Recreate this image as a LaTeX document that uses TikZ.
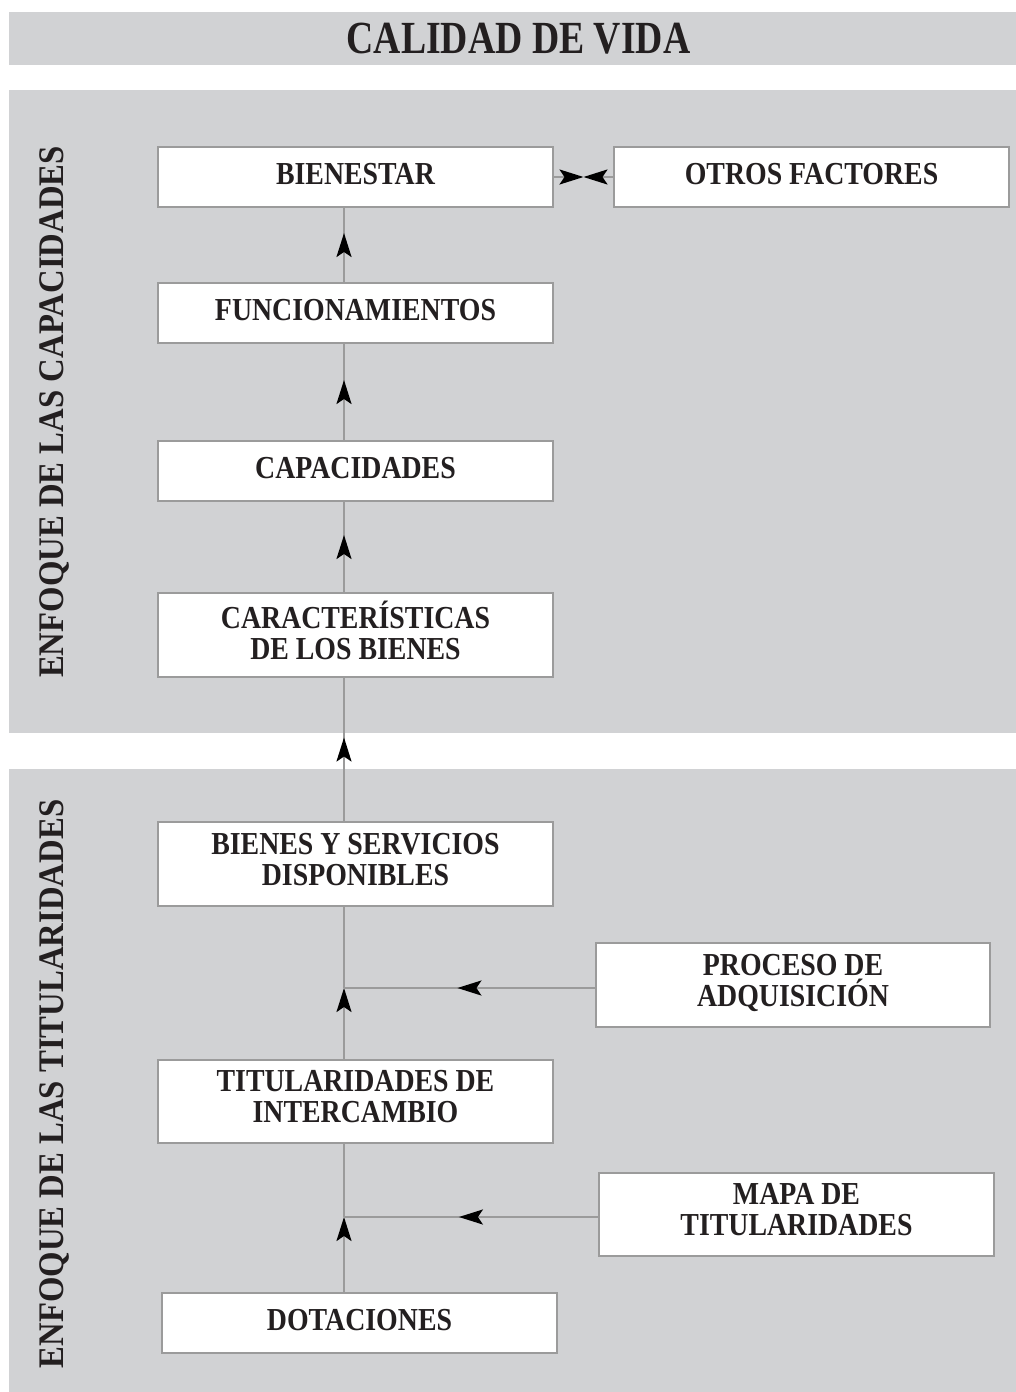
\documentclass[tikz,border=0pt]{standalone}
\usepackage{fontspec}
\setmainfont{Liberation Serif}
\newfontfamily\boxfont{Liberation Serif}[FakeStretch=0.87]
\newfontfamily\titlefont{Liberation Serif}[FakeStretch=0.82]
\newfontfamily\sidefont{Liberation Serif}[FakeStretch=0.91]
\usetikzlibrary{arrows.meta,decorations.markings,calc}
\definecolor{panel}{HTML}{D1D2D4}
\definecolor{linegray}{HTML}{9B9B9B}
\definecolor{ink}{HTML}{231F20}
\tikzset{
  >={Stealth[length=24pt,width=15pt,inset=5pt,color=black]},
  box/.style={draw=linegray,line width=2.4pt,fill=white,minimum width=395pt,
    minimum height=60pt,inner sep=0pt,align=center,text=ink,text depth=6pt,
    font=\boxfont\bfseries\fontsize{32}{31}\selectfont},
  tallbox/.style={minimum height=84pt,text depth=10pt},
  conn/.style={draw=linegray,line width=2.2pt},
  midarrow/.style={postaction={decorate},decoration={markings,
    mark=at position 0.5 with {\arrow[xshift=12pt]{>}}}},
  sidetext/.style={rotate=90,anchor=base,text=ink,
    font=\sidefont\bfseries\fontsize{36}{36}\selectfont},
}
\begin{document}
\begin{tikzpicture}[x=1pt,y=-1pt]
\useasboundingbox (0,0) rectangle (1016,1392);
% backgrounds
\fill[panel] (9,12) rectangle (1016,65);
\fill[panel] (9,90) rectangle (1016,733);
\fill[panel] (9,769) rectangle (1016,1392);
% title
\node[anchor=base,text=ink,font=\titlefont\bfseries\fontsize{46}{46}\selectfont] (title) at (518.5,53) {CALIDAD DE VIDA};
% side texts
\node[sidetext] (side1) at (63,412) {ENFOQUE DE LAS CAPACIDADES};
\node[sidetext] (side2) at (63,1084) {ENFOQUE DE LAS TITULARIDADES};
% boxes
\node[box] (bien) at (355.5,177) {BIENESTAR};
\node[box] (otros) at (811.5,177) {OTROS FACTORES};
\node[box] (func) at (355.5,313) {FUNCIONAMIENTOS};
\node[box] (cap) at (355.5,471) {CAPACIDADES};
\node[box,tallbox] (car) at (355.5,635) {CARACTERÍSTICAS\\DE LOS BIENES};
\node[box,tallbox] (bys) at (355.5,864) {BIENES Y SERVICIOS\\DISPONIBLES};
\node[box,tallbox,minimum width=394pt] (proc) at (793,985) {PROCESO DE\\ADQUISICIÓN};
\node[box,tallbox,minimum height=83pt] (tit) at (355.5,1101.5) {TITULARIDADES DE\\INTERCAMBIO};
\node[box,tallbox,minimum height=83pt] (mapa) at (796.5,1214.5) {MAPA DE\\TITULARIDADES};
\node[box] (dot) at (359.5,1323) {DOTACIONES};
% helper coordinates
\coordinate (ax) at (344,0);
\coordinate (j1) at (344,988);
\coordinate (j2) at (344,1217);
\coordinate (mid) at ($(bien.east)!0.5!(otros.west)$);
% connectors
\draw[conn,->] (bien.east) -- (mid);
\draw[conn,->] (otros.west) -- (mid);
\draw[conn,midarrow] (func.north -| ax) -- (bien.south -| ax);
\draw[conn,midarrow] (cap.north -| ax) -- (func.south -| ax);
\draw[conn,midarrow] (car.north -| ax) -- (cap.south -| ax);
\draw[conn,midarrow] (bys.north -| ax) -- (car.south -| ax);
\draw[conn] (j1) -- (bys.south -| ax);
\draw[conn,->] (tit.north -| ax) -- (j1);
\draw[conn,midarrow] (proc.west |- j1) -- (j1);
\draw[conn] (j2) -- (tit.south -| ax);
\draw[conn,->] (dot.north -| ax) -- (j2);
\draw[conn,midarrow] (mapa.west |- j2) -- (j2);
\end{tikzpicture}
\end{document}
